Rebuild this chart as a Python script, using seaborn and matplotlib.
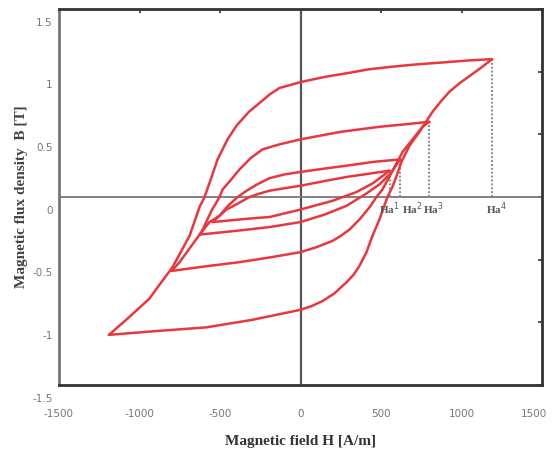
import matplotlib
matplotlib.use("Agg")
import matplotlib.pyplot as plt
from matplotlib.transforms import ScaledTranslation
import seaborn as sns
import pandas as pd

# ---- data (H in A/m, B in T) ----
loop4_desc_H = [1190, 1050, 900, 720, 571, 420, 300, 150, 0, -60, -130, -190, -236, -320, -397, -453, -515, -555, -596, -627, -689, -795, -870, -938, -1074, -1190]
loop4_desc_B = [1.10, 1.09, 1.075, 1.058, 1.04, 1.018, 0.99, 0.958, 0.917, 0.895, 0.87, 0.82, 0.77, 0.68, 0.57, 0.46, 0.30, 0.15, 0.0, -0.08, -0.31, -0.56, -0.69, -0.81, -0.97, -1.10]
loop4_asc_H = [-1190, -900, -584, -300, 0, 70, 137, 210, 286, 330, 366, 410, 447, 490, 540, 571, 600, 627, 677, 739, 820, 870, 925, 990, 1050, 1120, 1190]
loop4_asc_B = [-1.10, -1.07, -1.04, -0.98, -0.90, -0.87, -0.83, -0.77, -0.68, -0.62, -0.55, -0.44, -0.31, -0.18, 0.0, 0.08, 0.18, 0.28, 0.41, 0.52, 0.68, 0.76, 0.84, 0.91, 0.965, 1.03, 1.10]

loop3_desc_H = [800, 650, 490, 250, 0, -130, -236, -310, -379, -430, -484, -503, -553, -615, -689, -751, -800]
loop3_desc_B = [0.60, 0.58, 0.56, 0.52, 0.46, 0.42, 0.38, 0.31, 0.22, 0.14, 0.06, 0.0, -0.11, -0.28, -0.41, -0.52, -0.59]
loop3_asc_H = [-800, -600, -380, -180, 0, 100, 199, 250, 304, 366, 430, 472, 509, 560, 634, 696, 758, 800]
loop3_asc_B = [-0.59, -0.555, -0.52, -0.48, -0.44, -0.40, -0.35, -0.31, -0.26, -0.18, -0.08, 0.0, 0.06, 0.18, 0.36, 0.46, 0.56, 0.60]

loop2_desc_H = [620, 450, 286, 140, 0, -100, -193, -270, -335, -390, -450, -503, -565, -627]
loop2_desc_B = [0.30, 0.28, 0.25, 0.225, 0.20, 0.18, 0.15, 0.10, 0.05, 0.0, -0.07, -0.15, -0.20, -0.30]
loop2_asc_H = [-627, -400, -193, 0, 150, 286, 400, 490, 560, 620]
loop2_asc_B = [-0.30, -0.27, -0.24, -0.20, -0.14, -0.07, 0.02, 0.10, 0.19, 0.30]

loop1_desc_H = [553, 420, 286, 140, 0, -100, -193, -260, -317, -400, -460, -546]
loop1_desc_B = [0.21, 0.185, 0.16, 0.125, 0.09, 0.07, 0.05, 0.025, 0.0, -0.06, -0.10, -0.20]
loop1_asc_H = [-546, -300, -193, 0, 200, 348, 450, 553]
loop1_asc_B = [-0.20, -0.17, -0.16, -0.10, -0.03, 0.04, 0.11, 0.21]

tip_H = [553, 620, 800, 1190]
tip_B = [0.21, 0.30, 0.60, 1.10]
tip_labels = [r"Ha$^1$", r"Ha$^2$", r"Ha$^3$", r"Ha$^4$"]
tip_label_H = [490, 628, 760, 1155]

x_ticks = [-1500, -1000, -500, 0, 500, 1000, 1500]
y_ticks = [-1.5, -1, -0.5, 0, 0.5, 1, 1.5]
y_tick_labels = ["-1.5", "-1", "-0.5", "0", "0.5", "1", "1.5"]

branches = [
    ("l4d", loop4_desc_H, loop4_desc_B), ("l4a", loop4_asc_H, loop4_asc_B),
    ("l3d", loop3_desc_H, loop3_desc_B), ("l3a", loop3_asc_H, loop3_asc_B),
    ("l2d", loop2_desc_H, loop2_desc_B), ("l2a", loop2_asc_H, loop2_asc_B),
    ("l1d", loop1_desc_H, loop1_desc_B), ("l1a", loop1_asc_H, loop1_asc_B),
]
rows = []
for name, hs, bs in branches:
    for i, (h, b) in enumerate(zip(hs, bs)):
        rows.append({"branch": name, "H": h, "B": b, "order": i})
df = pd.DataFrame(rows)

sns.set_style("white")
fig = plt.figure(figsize=(5.52, 4.57), dpi=100)
ax = fig.add_axes([59 / 552, 1 - 385 / 457, (542 - 59) / 552, (385 - 9) / 457])

# zero axes lines
ax.axvline(0, color="#555555", lw=1.6, zorder=1)
ax.axhline(0, color="#777777", lw=1.3, zorder=1)

# dotted markers at tips
for h, b in zip(tip_H, tip_B):
    ax.plot([h, h], [0, b], color="#888888", lw=1.4, ls=(0, (1, 1)), zorder=2)

sns.lineplot(data=df, x="H", y="B", units="branch", estimator=None, sort=False,
             color="#e8373d", lw=1.8, ax=ax, zorder=3, legend=False)

for h, lab in zip(tip_label_H, tip_labels):
    ax.text(h, -0.03, lab, ha="left", va="top", fontsize=8, fontweight="bold",
            family="Liberation Serif", color="#555555", zorder=4)

ax.set_xlim(-1500, 1500)
ax.set_ylim(-1.5, 1.5)
ax.set_xticks(x_ticks)
ax.set_xticklabels([str(t) for t in x_ticks])
ax.set_yticks(y_ticks)
ax.set_yticklabels(y_tick_labels)
ax.tick_params(axis="both", direction="in", length=3, width=1.2, color="#333333",
               labelsize=7.5, labelcolor="#777777", top=True, right=True)
ax.tick_params(axis="x", pad=17)
ax.tick_params(axis="y", pad=4.5)
for lab in ax.get_yticklabels():
    lab.set_transform(lab.get_transform() + ScaledTranslation(0, -9 / 72, fig.dpi_scale_trans))
xl = ax.get_xticklabels()
xl[-1].set_transform(xl[-1].get_transform() + ScaledTranslation(-6 / 72, 0, fig.dpi_scale_trans))

for side in ["top", "bottom", "right"]:
    ax.spines[side].set_color("#333333")
    ax.spines[side].set_linewidth(2.0)
ax.spines["left"].set_color("#777777")
ax.spines["left"].set_linewidth(2.0)

ax.set_xlabel("Magnetic field H [A/m]", fontsize=11, fontweight="bold",
              family="Liberation Serif", color="#333333", labelpad=12)
ax.set_ylabel("Magnetic flux density  B [T]", fontsize=11, fontweight="bold",
              family="Liberation Serif", color="#444444", labelpad=3)

fig.savefig("out.png", dpi=100)
